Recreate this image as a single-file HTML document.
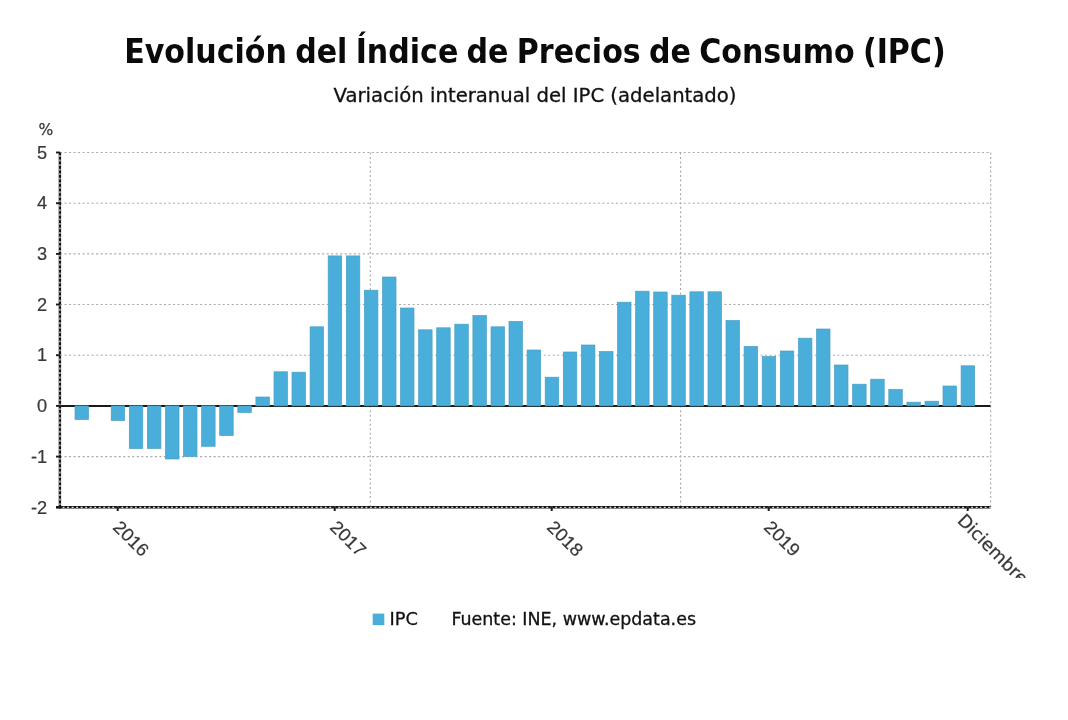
<!DOCTYPE html>
<html lang="es">
<head>
<meta charset="utf-8">
<title>Evolución del Índice de Precios de Consumo (IPC)</title>
<style>
html,body{margin:0;padding:0;background:#fff;}
body{width:1068px;height:720px;overflow:hidden;position:relative;font-family:"DejaVu Sans","Liberation Sans",sans-serif;}
svg{position:absolute;left:0;top:0;display:block;}
text{font-family:"DejaVu Sans","Liberation Sans",sans-serif;}
.title{font-family:"DejaVu Sans Condensed","Liberation Sans",sans-serif;font-weight:bold;font-size:33.3px;fill:#0a0a0a;word-spacing:-2.2px;}
.sub{font-size:19.5px;fill:#111;stroke:#111;stroke-width:0.3px;}
.ax{font-size:17.8px;fill:#383838;stroke:#383838;stroke-width:0.25px;}
.num,.num text{font-family:"Liberation Sans","DejaVu Sans",sans-serif;font-size:18.2px;stroke-width:0.2px;}
.leg{font-size:18.2px;fill:#111;stroke:#111;stroke-width:0.3px;}
.grid{stroke:#a9a9a9;stroke-width:1.1;stroke-dasharray:2 2.52;fill:none;}
.bar{fill:#49aeda;stroke:#4a9fc4;stroke-width:0.7;}
</style>
</head>
<body>
<svg width="1068" height="720" viewBox="0 0 1068 720">
<rect x="0" y="0" width="1068" height="720" fill="#ffffff"/>
<text class="title" x="124.2" y="63.3" textLength="821.5" lengthAdjust="spacingAndGlyphs">Evolución del Índice de Precios de Consumo (IPC)</text>
<text class="sub" x="333.5" y="102" textLength="403" lengthAdjust="spacingAndGlyphs">Variación interanual del IPC (adelantado)</text>
<g class="grid">
<line x1="60" y1="152.5" x2="990.5" y2="152.5"/>
<line x1="60" y1="203.2" x2="990.5" y2="203.2"/>
<line x1="60" y1="253.9" x2="990.5" y2="253.9"/>
<line x1="60" y1="304.5" x2="990.5" y2="304.5"/>
<line x1="60" y1="355.2" x2="990.5" y2="355.2"/>
<line x1="60" y1="456.6" x2="990.5" y2="456.6"/>
<line x1="370.3" y1="152.5" x2="370.3" y2="507.0"/>
<line x1="680.6" y1="152.5" x2="680.6" y2="507.0"/>
<line x1="990.7" y1="152.5" x2="990.7" y2="507.0"/>
</g>
<line x1="60" y1="405.9" x2="990.5" y2="405.9" stroke="#1a1a1a" stroke-width="2"/>
<g class="bar">
<rect x="75.0" y="405.9" width="13.5" height="13.6"/>
<rect x="111.2" y="405.9" width="13.5" height="14.6"/>
<rect x="129.3" y="405.9" width="13.5" height="42.6"/>
<rect x="147.4" y="405.9" width="13.5" height="42.6"/>
<rect x="165.5" y="405.9" width="13.5" height="53.1"/>
<rect x="183.5" y="405.9" width="13.5" height="50.5"/>
<rect x="201.6" y="405.9" width="13.5" height="40.4"/>
<rect x="219.7" y="405.9" width="13.5" height="29.7"/>
<rect x="237.8" y="405.9" width="13.5" height="6.6"/>
<rect x="255.9" y="397.0" width="13.5" height="8.9"/>
<rect x="274.0" y="371.8" width="13.5" height="34.1"/>
<rect x="292.0" y="372.2" width="13.5" height="33.6"/>
<rect x="310.1" y="326.8" width="13.5" height="79.1"/>
<rect x="328.2" y="255.9" width="13.5" height="150.0"/>
<rect x="346.3" y="255.9" width="13.5" height="150.0"/>
<rect x="364.4" y="290.2" width="13.5" height="115.6"/>
<rect x="382.5" y="277.0" width="13.5" height="128.9"/>
<rect x="400.5" y="308.0" width="13.5" height="97.9"/>
<rect x="418.6" y="329.8" width="13.5" height="76.1"/>
<rect x="436.7" y="327.8" width="13.5" height="78.1"/>
<rect x="454.8" y="324.2" width="13.5" height="81.6"/>
<rect x="472.9" y="315.5" width="13.5" height="90.4"/>
<rect x="491.0" y="326.8" width="13.5" height="79.1"/>
<rect x="509.0" y="321.5" width="13.5" height="84.4"/>
<rect x="527.1" y="350.0" width="13.5" height="55.9"/>
<rect x="545.2" y="377.2" width="13.5" height="28.6"/>
<rect x="563.3" y="352.0" width="13.5" height="53.9"/>
<rect x="581.4" y="345.0" width="13.5" height="60.9"/>
<rect x="599.5" y="351.5" width="13.5" height="54.4"/>
<rect x="617.5" y="302.2" width="13.5" height="103.6"/>
<rect x="635.6" y="291.2" width="13.5" height="114.6"/>
<rect x="653.7" y="292.0" width="13.5" height="113.9"/>
<rect x="671.8" y="295.2" width="13.5" height="110.6"/>
<rect x="689.9" y="291.8" width="13.5" height="114.1"/>
<rect x="708.0" y="291.8" width="13.5" height="114.1"/>
<rect x="726.0" y="320.5" width="13.5" height="85.4"/>
<rect x="744.1" y="346.4" width="13.5" height="59.5"/>
<rect x="762.2" y="356.5" width="13.5" height="49.4"/>
<rect x="780.3" y="351.0" width="13.5" height="54.9"/>
<rect x="798.4" y="338.2" width="13.5" height="67.6"/>
<rect x="816.5" y="329.0" width="13.5" height="76.9"/>
<rect x="834.5" y="365.0" width="13.5" height="40.9"/>
<rect x="852.6" y="384.2" width="13.5" height="21.6"/>
<rect x="870.7" y="379.2" width="13.5" height="26.6"/>
<rect x="888.8" y="389.5" width="13.5" height="16.4"/>
<rect x="906.9" y="402.2" width="13.5" height="3.6"/>
<rect x="925.0" y="401.2" width="13.5" height="4.6"/>
<rect x="943.0" y="386.0" width="13.5" height="19.9"/>
<rect x="961.1" y="365.8" width="13.5" height="40.1"/>
</g>
<line x1="59.9" y1="152.5" x2="59.9" y2="508.4" stroke="#141414" stroke-width="2.4"/>
<line x1="59.9" y1="155.1" x2="59.9" y2="506.0" stroke="#d6d6d6" stroke-width="1.3" stroke-dasharray="1.9 2.62"/>
<line x1="56" y1="507.3" x2="990.5" y2="507.3" stroke="#141414" stroke-width="2.4"/>
<line x1="62.6" y1="507.3" x2="990.5" y2="507.3" stroke="#d6d6d6" stroke-width="1.3" stroke-dasharray="1.9 2.62"/>
<line x1="56" y1="152.5" x2="60" y2="152.5" stroke="#1a1a1a" stroke-width="1.9"/>
<line x1="56" y1="203.2" x2="60" y2="203.2" stroke="#1a1a1a" stroke-width="1.9"/>
<line x1="56" y1="253.9" x2="60" y2="253.9" stroke="#1a1a1a" stroke-width="1.9"/>
<line x1="56" y1="304.5" x2="60" y2="304.5" stroke="#1a1a1a" stroke-width="1.9"/>
<line x1="56" y1="355.2" x2="60" y2="355.2" stroke="#1a1a1a" stroke-width="1.9"/>
<line x1="56" y1="405.9" x2="60" y2="405.9" stroke="#1a1a1a" stroke-width="1.9"/>
<line x1="56" y1="456.6" x2="60" y2="456.6" stroke="#1a1a1a" stroke-width="1.9"/>
<line x1="56" y1="507.3" x2="60" y2="507.3" stroke="#1a1a1a" stroke-width="1.9"/>
<line x1="117.7" y1="507.0" x2="117.7" y2="511.0" stroke="#1a1a1a" stroke-width="2"/>
<line x1="334.7" y1="507.0" x2="334.7" y2="511.0" stroke="#1a1a1a" stroke-width="2"/>
<line x1="551.7" y1="507.0" x2="551.7" y2="511.0" stroke="#1a1a1a" stroke-width="2"/>
<line x1="768.7" y1="507.0" x2="768.7" y2="511.0" stroke="#1a1a1a" stroke-width="2"/>
<line x1="967.7" y1="507.0" x2="967.7" y2="511.0" stroke="#1a1a1a" stroke-width="2"/>
<g class="ax num" text-anchor="end">
<text x="47.1" y="158.7">5</text>
<text x="47.1" y="209.4">4</text>
<text x="47.1" y="260.1">3</text>
<text x="47.1" y="310.7">2</text>
<text x="47.1" y="361.4">1</text>
<text x="47.1" y="412.1">0</text>
<text x="47.1" y="462.8">-1</text>
<text x="47.1" y="513.5">-2</text>
</g>
<text class="ax" x="38.6" y="135.4" style="font-size:16.6px" textLength="14.8" lengthAdjust="spacingAndGlyphs">%</text>
<clipPath id="cp"><rect x="0" y="500" width="1068" height="78"/></clipPath>
<g class="ax" clip-path="url(#cp)">
<text class="num" transform="translate(112.1,528.2) rotate(45)" x="0" y="0" textLength="41.6" lengthAdjust="spacingAndGlyphs">2016</text>
<text class="num" transform="translate(329.1,528.2) rotate(45)" x="0" y="0" textLength="41.6" lengthAdjust="spacingAndGlyphs">2017</text>
<text class="num" transform="translate(546.1,528.2) rotate(45)" x="0" y="0" textLength="41.6" lengthAdjust="spacingAndGlyphs">2018</text>
<text class="num" transform="translate(763.1,528.2) rotate(45)" x="0" y="0" textLength="41.6" lengthAdjust="spacingAndGlyphs">2019</text>
<text transform="translate(956.4,521.4) rotate(45)" x="0" y="0" textLength="91" lengthAdjust="spacingAndGlyphs">Diciembre</text>
</g>
<rect x="372.7" y="613.6" width="11.6" height="11.5" fill="#49aeda"/>
<text class="leg" x="389.6" y="625" textLength="28.4" lengthAdjust="spacingAndGlyphs">IPC</text>
<text class="leg" x="451.4" y="625" textLength="244.6" lengthAdjust="spacingAndGlyphs">Fuente: INE, www.epdata.es</text>
</svg>
</body>
</html>
